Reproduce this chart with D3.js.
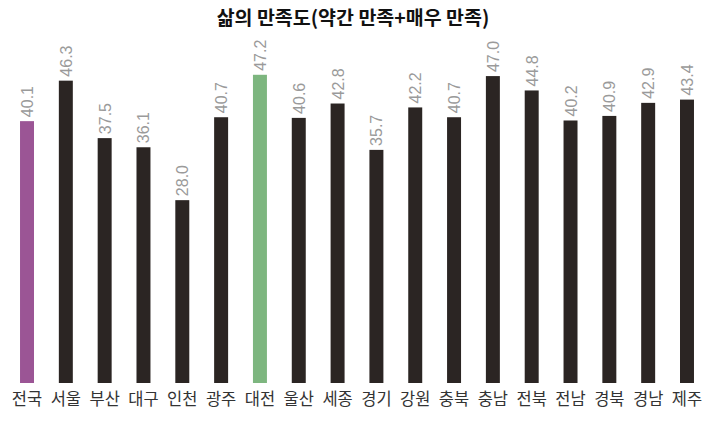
<!DOCTYPE html>
<html>
<head>
    <meta charset="utf-8">
    <title>삶의 만족도</title>
    <script src="https://d3js.org/d3.v7.min.js"></script>
    <style>
        body { margin: 0; background: #fff; }
        .title { font-family: "Noto Sans CJK KR", sans-serif; font-weight: bold; font-size: 19.5px; fill: #111; }
        .value { font-family: "Liberation Sans", Arial, sans-serif; font-size: 16px; fill: #9a9a9a; }
        .cat { font-family: "Noto Sans CJK KR", sans-serif; font-size: 16.5px; fill: #333; }
    </style>
</head>
<body>
    <div id="chart"></div>
    <script>
        const regions = ["전국", "서울", "부산", "대구", "인천", "광주", "대전", "울산", "세종",
                         "경기", "강원", "충북", "충남", "전북", "전남", "경북", "경남", "제주"];
        const satisfaction = [40.1, 46.3, 37.5, 36.1, 28.0, 40.7, 47.2, 40.6, 42.8,
                              35.7, 42.2, 40.7, 47.0, 44.8, 40.2, 40.9, 42.9, 43.4];
        const highlight = { "전국": "#9b5595", "대전": "#7db67f" };

        const width = 706;
        const height = 422;
        const baseY = 383;

        const svg = d3.select("#chart")
            .append("svg")
            .attr("width", width)
            .attr("height", height);

        // band centres land at ~27 and ~687
        const x = d3.scaleBand()
            .domain(regions)
            .range([7.6, 706.4])
            .paddingInner(0.64)
            .paddingOuter(0.32);

        const y = d3.scaleLinear()
            .domain([0, 50])
            .range([baseY, baseY - 326.5]);

        svg.append("text")
            .attr("class", "title")
            .attr("x", width / 2)
            .attr("y", 25)
            .attr("text-anchor", "middle")
            .text("삶의 만족도(약간 만족+매우 만족)");

        svg.selectAll(".bar")
            .data(regions)
            .enter()
            .append("rect")
            .attr("class", "bar")
            .attr("x", d => x(d))
            .attr("width", x.bandwidth())
            .attr("y", (d, i) => y(satisfaction[i]))
            .attr("height", (d, i) => baseY - y(satisfaction[i]))
            .attr("fill", d => highlight[d] || "#2b2523");

        // rotated value labels above bars
        svg.selectAll(".value")
            .data(regions)
            .enter()
            .append("text")
            .attr("class", "value")
            .attr("transform", (d, i) => {
                const cx = x(d) + x.bandwidth() / 2 + 6;
                const ty = y(satisfaction[i]) - 4;
                return `translate(${cx},${ty}) rotate(-90)`;
            })
            .attr("text-anchor", "start")
            .text((d, i) => satisfaction[i].toFixed(1));

        svg.selectAll(".cat")
            .data(regions)
            .enter()
            .append("text")
            .attr("class", "cat")
            .attr("x", d => x(d) + x.bandwidth() / 2)
            .attr("y", 405)
            .attr("text-anchor", "middle")
            .text(d => d);
    </script>
</body>
</html>
